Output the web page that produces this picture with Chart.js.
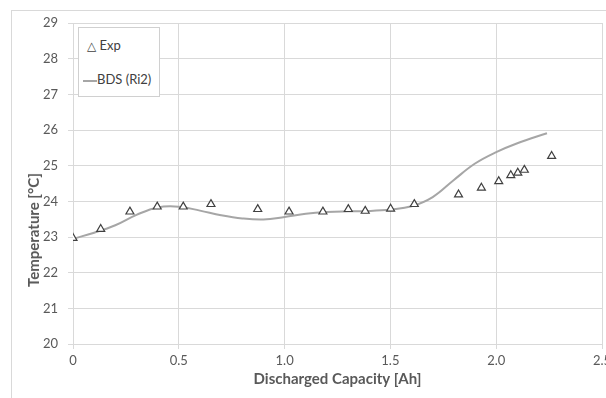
<!DOCTYPE html>
<html>
<head>
<meta charset="utf-8">
<script src="https://cdn.jsdelivr.net/npm/chart.js@4"></script>
<style>
  body { margin: 0; overflow: hidden; background: #fff; font-family: Lato, "Open Sans", sans-serif; }
  #wrap { position: relative; width: 606px; height: 398px; overflow: hidden; }
  #frame { position: absolute; left: 11px; top: 10px; width: 700px; height: 500px; border: 1px solid #d9d9d9; }
  #holder { position: absolute; left: 0; top: 0; width: 620px; height: 398px; }
  #legend { position: absolute; left: 78px; top: 27px; width: 80px; height: 68px; border: 1px solid #d0d0d0; background: #fff; }
  .item { position: absolute; left: 0; font-size: 13px; color: #404040; white-space: nowrap; }
  .swatch { display: inline-block; width: 14px; height: 0; border-top: 2px solid #a6a6a6; vertical-align: middle; }
  #ytitle { position: absolute; left: 33px; top: 230px; transform: translate(-50%, -50%) rotate(-90deg);
            font: bold 15px Lato, sans-serif; color: #595959; white-space: nowrap; }
</style>
</head>
<body>
<div id="wrap">
  <div id="frame"></div>
  <div id="holder"><canvas id="myChart" width="620" height="398"></canvas></div>
  <div id="legend"></div>
  <div id="ytitle"></div>
</div>
<script>
// measured points (Exp)
var expX = [0, 0.131, 0.269, 0.398, 0.521, 0.652, 0.873, 1.021, 1.181, 1.301, 1.381, 1.501, 1.613, 1.822, 1.93, 2.012, 2.069, 2.102, 2.133, 2.262];
var expY = [22.97, 23.22, 23.71, 23.85, 23.85, 23.92, 23.78, 23.71, 23.71, 23.78, 23.73, 23.79, 23.92, 24.19, 24.38, 24.56, 24.73, 24.8, 24.88, 25.27];

// simulated curve (BDS)
var bdsX = [0, 0.1, 0.2, 0.3, 0.4, 0.5, 0.6, 0.7, 0.8, 0.9, 1.0, 1.1, 1.2, 1.3, 1.4, 1.5, 1.6, 1.7, 1.8, 1.9, 2.0, 2.1, 2.24];
var bdsY = [22.95, 23.12, 23.33, 23.62, 23.83, 23.85, 23.74, 23.61, 23.52, 23.49, 23.56, 23.65, 23.7, 23.72, 23.73, 23.77, 23.86, 24.12, 24.6, 25.06, 25.38, 25.63, 25.91];

var seriesNames = ["Exp", "BDS (Ri2)"];
var xTitle = "Discharged Capacity [Ah]";
var yTitle = "Temperature [°C]";
var xMin = 0, xMax = 2.5, xStep = 0.5;
var yMin = 20, yMax = 29, yStep = 1;

function toPoints(xs, ys) {
    var pts = [];
    for (var i = 0; i < xs.length; i++) {
        pts.push({ x: xs[i], y: ys[i] });
    }
    return pts;
}

//legend + y title in html
document.getElementById("legend").innerHTML =
    '<div class="item" style="left:8px;top:9px"><span style="font-family:\'DejaVu Sans\';font-size:12px">\u25B3</span>&nbsp;' + seriesNames[0] + '</div>' +
    '<div class="item" style="left:4px;top:43px"><span class="swatch"></span>' + seriesNames[1] + '</div>';
document.getElementById("ytitle").textContent = yTitle;

var tickFont = { family: "Lato", size: 13 };
var titleFont = { family: "Lato", size: 15, weight: "bold" };
var grey = "#595959";
var gridCol = "#d9d9d9";

var data = {
    datasets: [{
        label: seriesNames[0],
        data: toPoints(expX, expY),
        showLine: false,
        pointStyle: "triangle",
        pointRadius: 4.6,
        pointBorderWidth: 1.2,
        pointBorderColor: "#404040",
        pointBackgroundColor: "#ffffff"
    }, {
        label: seriesNames[1],
        data: toPoints(bdsX, bdsY),
        showLine: true,
        tension: 0.4,
        borderColor: "#a6a6a6",
        borderWidth: 2,
        pointRadius: 0
    }]
};

var config = {
    type: "scatter",
    data: data,
    options: {
        responsive: false,
        animation: false,
        layout: { padding: { left: 0, top: 23, right: 18, bottom: 0 } },
        plugins: { legend: { display: false }, tooltip: { enabled: false } },
        scales: {
            x: {
                type: "linear",
                min: xMin, max: xMax,
                ticks: { stepSize: xStep, color: grey, font: tickFont, padding: 4, maxRotation: 0 },
                grid: { color: gridCol, tickLength: 5 },
                border: { color: gridCol },
                title: { display: true, text: xTitle, color: grey, font: titleFont, padding: { top: 0, bottom: 10 } },
                afterFit: function (s) { s.height = 54; }
            },
            y: {
                min: yMin, max: yMax,
                ticks: { stepSize: yStep, color: grey, font: tickFont, padding: 10 },
                grid: { color: gridCol, tickLength: 5 },
                border: { color: gridCol },
                afterFit: function (s) { s.width = 73; }
            }
        }
    }
};

var myChart = new Chart(document.getElementById("myChart"), config);
</script>
</body>
</html>
